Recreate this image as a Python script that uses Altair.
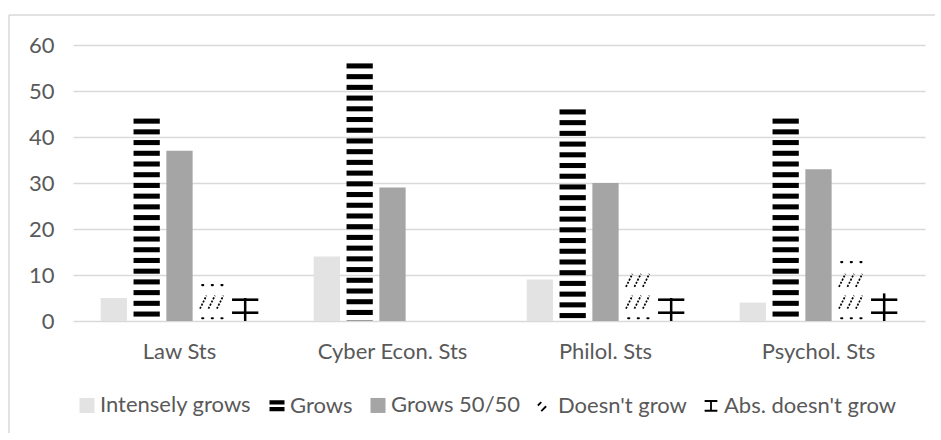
import altair as alt
import pandas as pd

# Survey answers per field of study (percent of respondents)
FACULTIES = ["Law Sts", "Cyber Econ. Sts", "Philol. Sts", "Psychol. Sts"]
SERIES = ["Intensely grows", "Grows", "Grows 50/50", "Doesn't grow", "Abs. doesn't grow"]

INTENSELY_GROWS = [5, 14, 9, 4]
GROWS = [44, 56, 46, 44]
GROWS_HALF = [37, 29, 30, 33]
DOESNT_GROW = [8, 0, 10, 13]
ABS_DOESNT_GROW = [5, 0, 5, 6]

Y_TICKS = [0, 10, 20, 30, 40, 50, 60]

# ---- styling -------------------------------------------------------------
FONT = "Lato"
TEXT = "#595959"
GRID = "#d9d9d9"
LIGHT = "#e3e3e3"
MID = "#a5a5a5"
W, H = 852, 276

series_values = {
    SERIES[0]: INTENSELY_GROWS,
    SERIES[1]: GROWS,
    SERIES[2]: GROWS_HALF,
    SERIES[3]: DOESNT_GROW,
    SERIES[4]: ABS_DOESNT_GROW,
}
bars = pd.DataFrame(
    [{"faculty": f, "series": s, "value": v}
     for s, vals in series_values.items() for f, v in zip(FACULTIES, vals)]
)

# hatch rows for the "Doesn't grow" bars (dashed upward diagonals)
diag_rows, dot_rows = [], []
for f, v in zip(FACULTIES, DOESNT_GROW):
    if v <= 0:
        continue
    dot_rows.append({"faculty": f, "series": SERIES[3], "level": 0.6})
    level, last = 4.1, 0.0
    while level + 1.0 <= v:
        diag_rows.append({"faculty": f, "series": SERIES[3], "level": level})
        last, level = level, level + 4.75
    if v - last > 2.5:
        dot_rows.append({"faculty": f, "series": SERIES[3], "level": v - 0.2})
diag_df = pd.DataFrame(diag_rows)
dot_df = pd.DataFrame(dot_rows)

# brick rows for the "Abs. doesn't grow" bars
brick_rows = []
for f, v in zip(FACULTIES, ABS_DOESNT_GROW):
    level = 1.8
    while level < v:
        brick_rows.append({"faculty": f, "series": SERIES[4],
                           "lo": level - 0.28, "hi": level + 0.28})
        level += 2.83
brick_df = pd.DataFrame(brick_rows)

# ---- shared encodings ----------------------------------------------------
x_enc = alt.X(
    "faculty:N",
    sort=FACULTIES,
    scale=alt.Scale(domain=FACULTIES, paddingInner=0.26, paddingOuter=0.13),
    axis=alt.Axis(title=None, labelAngle=0, domain=False, ticks=False,
                  labelPadding=20, labelFontSize=22, labelColor=TEXT,
                  labelFont=FONT, grid=False),
)
xo_enc = alt.XOffset("series:N", sort=SERIES,
                     scale=alt.Scale(domain=SERIES, paddingInner=0.2, paddingOuter=0))
y_scale = alt.Scale(domain=[0, 60], nice=False)


def y_of(field):
    return alt.Y(field, scale=y_scale, title=None)


def one_series(name):
    return alt.FieldEqualPredicate(field="series", equal=name)


solid_light = alt.Chart(bars).transform_filter(one_series(SERIES[0])).mark_bar(
    color=LIGHT).encode(x=x_enc, xOffset=xo_enc, y=y_of("value:Q"))

solid_mid = alt.Chart(bars).transform_filter(one_series(SERIES[2])).mark_bar(
    color=MID).encode(x=x_enc, xOffset=xo_enc, y=y_of("value:Q"))

# "Grows": thick horizontal stripes hung from the top of each bar
stripes = (
    alt.Chart(bars)
    .transform_filter(one_series(SERIES[1]))
    .transform_calculate(off="sequence(0, datum.value, 2.33)")
    .transform_flatten(["off"])
    .transform_calculate(top="datum.value - datum.off",
                         bottom="max(0, datum.value - datum.off - 1.1)")
    .mark_bar(color="black")
    .encode(x=x_enc, xOffset=xo_enc, y=y_of("top:Q"), y2="bottom:Q")
)

DIAG_PATH = ("M-0.95,0.5L-0.45,-0.5 M-0.3,0.5L0.2,-0.5 "
             "M0.35,0.5L0.85,-0.5")
DOTS_PATH = "M-0.78,0L-0.7,0 M-0.04,0L0.04,0 M0.7,0L0.78,0"

diags = alt.Chart(diag_df).mark_point(
    shape=DIAG_PATH, size=676, filled=False, stroke="black", strokeWidth=1.7,
    strokeDash=[2, 1.5], opacity=1,
).encode(x=x_enc, xOffset=xo_enc, y=y_of("level:Q"))

dots = alt.Chart(dot_df).mark_point(
    shape=DOTS_PATH, size=676, filled=False, stroke="black", strokeWidth=2.2,
    strokeCap="round", opacity=1,
).encode(x=x_enc, xOffset=xo_enc, y=y_of("level:Q"))

bricks = alt.Chart(brick_df).mark_bar(color="black").encode(
    x=x_enc, xOffset=xo_enc, y=y_of("lo:Q"), y2="hi:Q")

stems = alt.Chart(bars).transform_filter(one_series(SERIES[4])).mark_bar(
    color="black", width=2.5).encode(x=x_enc, xOffset=xo_enc, y=y_of("value:Q"))

# legend built from a hidden point layer with custom symbols
LEG_SQUARE = "M-1,-1H1V1H-1Z"
LEG_STRIPES = "M-1,-0.7H1V-0.15H-1Z M-1,0.2H1V0.75H-1Z"
LEG_DIAG = "M-0.95,0.0L-0.5,-0.45 M-0.5,0.75L0.15,0.1"
LEG_IBEAM = "M-0.85,-0.6H0.85 M0,-0.6V0.7 M-0.85,0.7H0.85"

legend = alt.Legend(
    orient="none", legendX=3, legendY=349, direction="horizontal", title=None,
    labelFontSize=22, labelFont=FONT, labelColor=TEXT, labelOffset=2,
    symbolSize=225, symbolStrokeWidth=1.8, columnPadding=13, labelLimit=300,
    symbolOpacity=1,
)
legend_layer = alt.Chart(pd.DataFrame({"series": SERIES})).mark_point(
    opacity=0, size=10).encode(
    shape=alt.Shape("series:N", sort=SERIES, legend=legend,
                    scale=alt.Scale(domain=SERIES, range=[
                        LEG_SQUARE, LEG_STRIPES, LEG_SQUARE, LEG_DIAG, LEG_IBEAM])),
    fill=alt.Fill("series:N", sort=SERIES, legend=legend,
                  scale=alt.Scale(domain=SERIES, range=[
                      LIGHT, "black", MID, "transparent", "transparent"])),
    stroke=alt.Stroke("series:N", sort=SERIES, legend=legend,
                      scale=alt.Scale(domain=SERIES, range=[
                          "transparent", "transparent", "transparent", "black", "black"])),
)

# light frame around the whole chart
frame_src = pd.DataFrame({"k": [0]})
frame_top = alt.Chart(frame_src).mark_rule(color=GRID, strokeWidth=1.5).encode(
    x=alt.value(-64), x2=alt.value(862), y=alt.value(-30))
frame_left = alt.Chart(frame_src).mark_rule(color=GRID, strokeWidth=1.5).encode(
    x=alt.value(-64), y=alt.value(-30), y2=alt.value(388))

chart = (
    alt.layer(solid_light, stripes, solid_mid, diags, dots, bricks, stems,
              legend_layer, frame_top, frame_left)
    .properties(width=W, height=H,
                padding={"left": 8, "top": 14, "right": 0, "bottom": 0})
    .configure(font=FONT)
    .configure_view(stroke=None)
    .configure_axisY(domain=False, ticks=False, tickSize=0, values=Y_TICKS,
                     labelFontSize=22, labelColor=TEXT, labelFont=FONT,
                     labelPadding=19, gridColor=GRID, gridWidth=1.5)
)

chart.save("out.html", embed_options={"renderer": "svg", "actions": False})
